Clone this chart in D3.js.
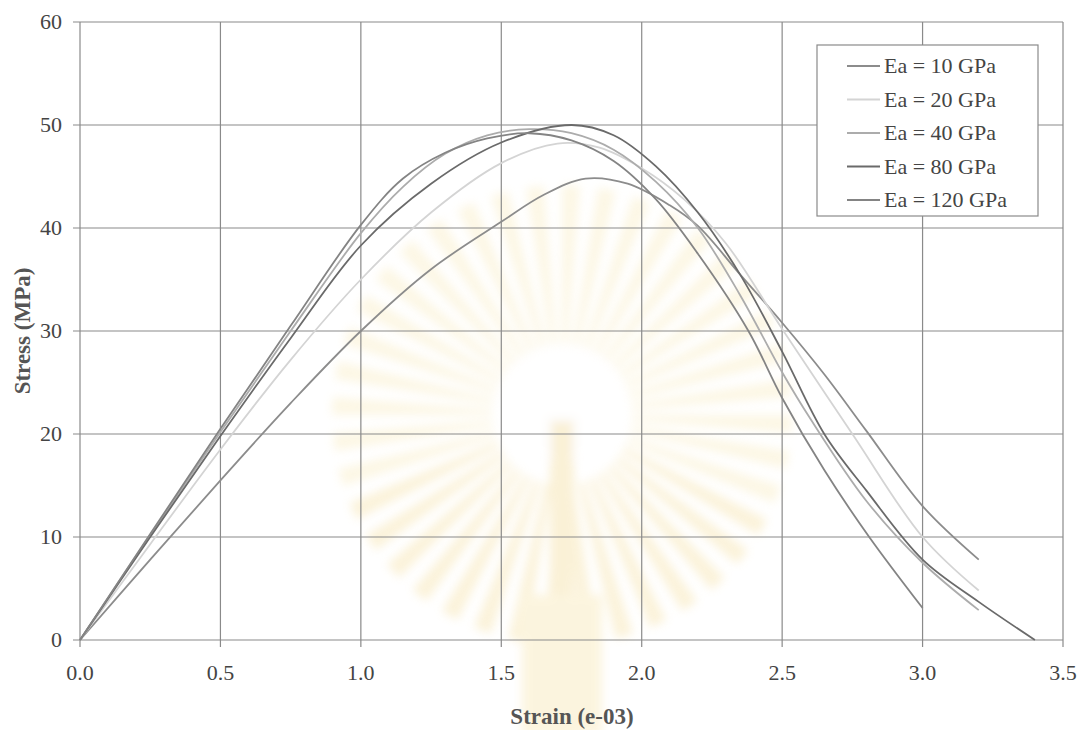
<!DOCTYPE html>
<html>
<head>
<meta charset="utf-8">
<script src="https://cdn.jsdelivr.net/npm/d3@7"></script>
<style>
  body { margin: 0; background: #fff; }
  svg text { font-family: "Liberation Serif", "DejaVu Serif", serif; }
</style>
</head>
<body>
<div id="container"></div>
<script>
// stress-strain data (strain e-03, stress MPa)
let ea10  = [[0,0],[0.25,7.8],[0.5,15.5],[0.75,23],[1.0,30],[1.25,36],[1.5,40.6],[1.65,43.2],[1.8,44.8],[1.95,44.3],[2.1,42.2],[2.2,40.2],[2.35,35.5],[2.5,30.8],[2.65,25.8],[2.8,20.3],[3.0,13],[3.2,7.8]];
let ea20  = [[0,0],[0.25,9.3],[0.5,18.5],[0.75,27.2],[1.0,35],[1.25,41.5],[1.5,46.3],[1.7,48.2],[1.85,47.8],[2.0,45.8],[2.15,42.8],[2.3,38.5],[2.5,30.2],[2.75,20],[3.0,10],[3.2,4.8]];
let ea40  = [[0,0],[0.25,10.2],[0.5,20.2],[0.75,30],[1.0,39.5],[1.15,44],[1.3,47.2],[1.45,49],[1.6,49.6],[1.75,49.2],[1.9,47.6],[2.05,44.5],[2.2,40],[2.35,33.5],[2.5,26],[2.6,21.5],[2.8,13.5],[3.0,7.5],[3.2,2.9]];
let ea80  = [[0,0],[0.25,10],[0.5,19.8],[0.75,29.3],[1.0,38.3],[1.25,44.3],[1.5,48.3],[1.75,50],[1.9,49],[2.05,46],[2.2,41.5],[2.35,35.5],[2.5,28],[2.65,20],[2.8,14.5],[3.0,7.8],[3.2,3.7],[3.4,0]];
let ea120 = [[0,0],[0.25,10.3],[0.5,20.5],[0.75,30.5],[1.0,40.3],[1.15,44.8],[1.3,47.3],[1.45,48.7],[1.6,49.2],[1.75,48.5],[1.9,46.5],[2.05,42.8],[2.2,37.5],[2.38,30],[2.5,23.5],[2.65,16.5],[2.81,10],[3.0,3.1]];

let seriesNames = ["Ea = 10 GPa","Ea = 20 GPa","Ea = 40 GPa","Ea = 80 GPa","Ea = 120 GPa"];
let seriesData = [ea10, ea20, ea40, ea80, ea120];
let seriesColors = ["#8c8c8c","#d4d4d4","#acacac","#6a6a6a","#848484"];

let xTicks = [0,0.5,1.0,1.5,2.0,2.5,3.0,3.5];
let yTicks = [0,10,20,30,40,50,60];

let w = 1082;
let h = 730;
let viz = d3.select("#container").append("svg")
    .attr("width", w)
    .attr("height", h);

let x = d3.scaleLinear().domain([0,3.5]).range([80,1063]);
let y = d3.scaleLinear().domain([0,60]).range([640,22]);

// faint blurred watermark behind the chart
viz.append("defs").append("filter").attr("id", "blur")
    .append("feGaussianBlur").attr("stdDeviation", 5);
let wm = viz.append("g").attr("opacity", 0.25).attr("filter", "url(#blur)");
let cx = 562, cy = 415;
for (let i = 0; i < 40; i++) {
  let a0 = (i / 40) * Math.PI * 2, a1 = a0 + Math.PI * 2 / 80;
  wm.append("path")
    .attr("d", d3.arc()({innerRadius: 70, outerRadius: 230, startAngle: a0, endAngle: a1}))
    .attr("transform", "translate(" + cx + "," + cy + ")")
    .attr("fill", i > 12 && i < 28 ? "#f0cf70" : "#f5e09a");
}
wm.append("circle").attr("cx", cx).attr("cy", cy - 10).attr("r", 58).attr("fill", "#fff");
wm.append("rect").attr("x", cx - 12).attr("y", cy + 5).attr("width", 24).attr("height", 320).attr("fill", "#ecc860");
wm.append("rect").attr("x", cx - 40).attr("y", cy + 180).attr("width", 80).attr("height", 140).attr("fill", "#f3d780");

// grid
viz.append("g").selectAll("line").data(xTicks).enter().append("line")
    .attr("x1", d => x(d)).attr("x2", d => x(d))
    .attr("y1", y(60)).attr("y2", y(0) + 7)
    .attr("stroke", "#8a8a8a").attr("stroke-width", 1.2);
viz.append("g").selectAll("line").data(yTicks).enter().append("line")
    .attr("x1", x(0) - 7).attr("x2", x(3.5))
    .attr("y1", d => y(d)).attr("y2", d => y(d))
    .attr("stroke", "#8a8a8a").attr("stroke-width", 1.2);

// tick labels
viz.append("g").selectAll("text").data(yTicks).enter().append("text")
    .text(d => d)
    .attr("x", 62).attr("y", d => y(d) + 7)
    .attr("text-anchor", "end")
    .attr("font-family", "Liberation Serif")
    .attr("font-size", 22).attr("fill", "#444");
viz.append("g").selectAll("text").data(xTicks).enter().append("text")
    .text(d => d3.format(".1f")(d))
    .attr("x", d => x(d)).attr("y", 680)
    .attr("text-anchor", "middle")
    .attr("font-family", "Liberation Serif")
    .attr("font-size", 22).attr("fill", "#444");

// axis titles
viz.append("text")
    .text("Strain (e-03)")
    .attr("x", 572).attr("y", 724)
    .attr("text-anchor", "middle")
    .attr("font-family", "Liberation Serif")
    .attr("font-size", 23).attr("font-weight", "bold").attr("fill", "#555");
viz.append("text")
    .text("Stress (MPa)")
    .attr("transform", "translate(30,331) rotate(-90)")
    .attr("text-anchor", "middle")
    .attr("font-family", "Liberation Serif")
    .attr("font-size", 23).attr("font-weight", "bold").attr("fill", "#555");

// curves
let line = d3.line()
    .x(d => x(d[0]))
    .y(d => y(d[1]))
    .curve(d3.curveCatmullRom.alpha(0.5));
viz.append("g").selectAll("path").data(seriesData).enter().append("path")
    .attr("d", line)
    .attr("fill", "none")
    .attr("stroke", (d, i) => seriesColors[i])
    .attr("stroke-width", 1.8);

// legend
let leg = viz.append("g");
leg.append("rect")
    .attr("x", 817).attr("y", 45).attr("width", 221).attr("height", 171)
    .attr("fill", "#fff").attr("stroke", "#8a8a8a").attr("stroke-width", 1.2);
let legY = d3.scalePoint().domain(seriesNames).range([66, 200]);
leg.selectAll("line").data(seriesNames).enter().append("line")
    .attr("x1", 847).attr("x2", 880)
    .attr("y1", d => legY(d)).attr("y2", d => legY(d))
    .attr("stroke", (d, i) => seriesColors[i]).attr("stroke-width", 1.8);
leg.selectAll("text").data(seriesNames).enter().append("text")
    .text(d => d)
    .attr("x", 884).attr("y", d => legY(d) + 7)
    .attr("font-family", "Liberation Serif")
    .attr("font-size", 22).attr("fill", "#444");
</script>
</body>
</html>
